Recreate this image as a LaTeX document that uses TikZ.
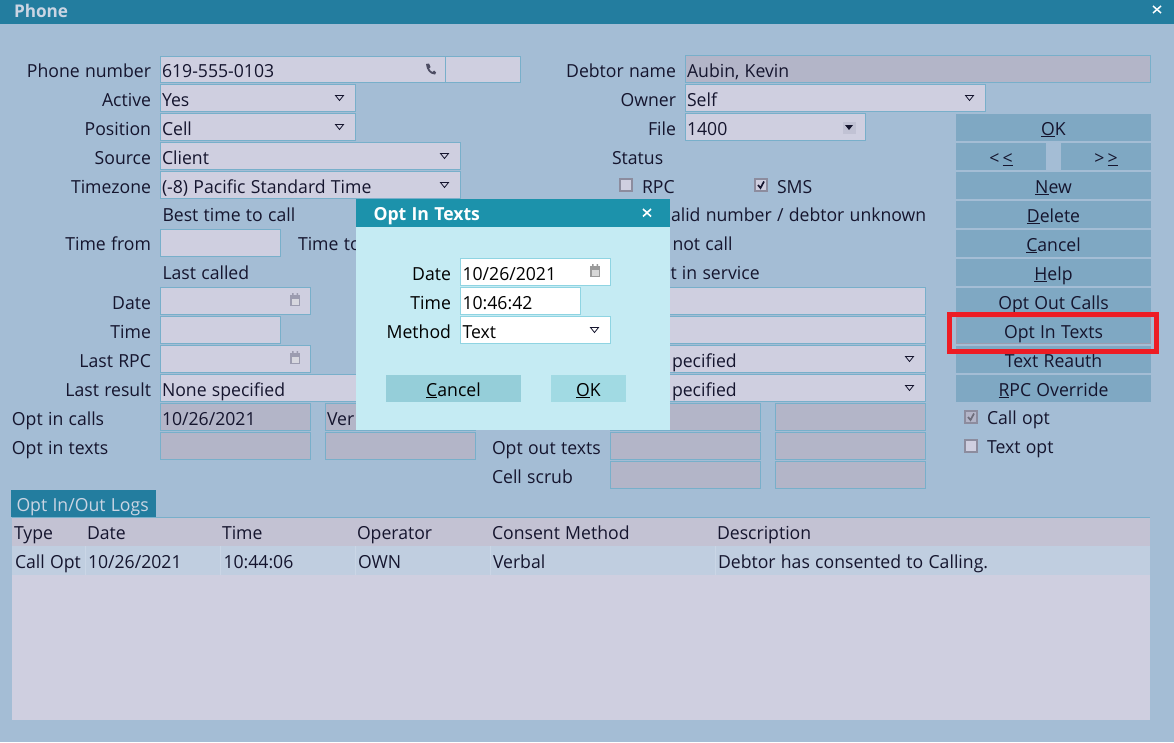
\documentclass[tikz,border=0pt]{standalone}
\usepackage{fontspec}
\setmainfont{Open Sans}[FakeStretch=0.98,WordSpace=1.15]
\definecolor{bgc}{HTML}{A4BDD5}
\definecolor{barc}{HTML}{237D9F}
\definecolor{fieldc}{HTML}{CFCFE0}
\definecolor{offc}{HTML}{B3B5C8}
\definecolor{edgec}{HTML}{78AFCA}
\definecolor{btnc}{HTML}{7FA8C3}
\definecolor{inkc}{HTML}{15152E}
\definecolor{dlgbar}{HTML}{1C92AB}
\definecolor{dlgbody}{HTML}{C5EBF3}
\definecolor{dlgedge}{HTML}{8FD4E2}
\definecolor{dlgcancel}{HTML}{95CED9}
\definecolor{dlgok}{HTML}{A1DAE3}
\definecolor{redc}{HTML}{ED1C24}
\definecolor{headc}{HTML}{C3C2D3}
\definecolor{rowc}{HTML}{C0CEE0}
\definecolor{titletxt}{HTML}{CBD5E3}
\definecolor{sepc}{HTML}{CAD6E6}
\definecolor{iconc}{HTML}{9C9CB0}
\definecolor{tickedge}{HTML}{8C8C9E}
\definecolor{dlgicon}{HTML}{9A9A9A}
\newcounter{tc}
\tikzset{
  txtbase/.style={inner sep=0pt,outer sep=0pt,text=inkc,font=\fontsize{18}{20}\selectfont},
  fieldbox/.style={draw=edgec,fill=fieldc,line width=1pt},
  offbox/.style={draw=edgec,fill=offc,line width=1pt},
  dlgbox/.style={draw=dlgedge,fill=white,line width=1pt},
  btnbox/.style={fill=btnc,draw=none},
  tickbox/.style={draw=tickedge,fill=fieldc,line width=1.2pt},
}
\newcommand\txtL[4][]{\stepcounter{tc}\node[txtbase,anchor=base west,#1] (t\arabic{tc}) at ({#2},{#3}) {#4};}
\newcommand\txtR[4][]{\stepcounter{tc}\node[txtbase,anchor=base east,#1] (t\arabic{tc}) at ({#2},{#3}) {#4};}
\newcommand\txtC[4][]{\stepcounter{tc}\node[txtbase,anchor=base,#1] (t\arabic{tc}) at ({#2},{#3}) {#4};}
\newcommand\fld[4]{\draw[fieldbox] (#1,#2) rectangle (#3,#4);}
\newcommand\off[4]{\draw[offbox] (#1,#2) rectangle (#3,#4);}
\newcommand\drop[3][fieldc]{\draw[draw=inkc,line width=0.8pt,fill=#1] (#2-4,#3-2.5) -- (#2+4,#3-2.5) -- (#2,#3+2.5) -- cycle;}
\newcommand\btn[4]{\fill[btnbox] (#1,#2) rectangle (#3,#2+27);\txtC{(#1+#3)/2}{#2+21}{#4}}
\newcommand\calicon[3]{\fill[#3] (#1-5,#2-5) rectangle (#1+5,#2+6);\fill[#3!40!white] (#1-3.5,#2-1.5) rectangle (#1+3.5,#2+4.5);\fill[#3] (#1-3,#2-7) rectangle (#1-1.5,#2-4) (#1+1.5,#2-7) rectangle (#1+3,#2-4);}
\newcommand\tick[2]{\draw[tickbox] (#1,#2) rectangle (#1+12,#2+12);}
\begin{document}
\begin{tikzpicture}[x=1pt,y=-1pt]
\useasboundingbox (0,0) rectangle (1174,742);
\fill[bgc] (0,0) rectangle (1174,742);
% title bar
\fill[barc] (0,0) rectangle (1174,24);
\txtL[text=titletxt,font=\fontsize{17.5}{20}\selectfont\bfseries]{14}{17.5}{Phone}
\draw[white,line width=1.5pt] (1153,6) -- (1161,13) (1161,6) -- (1153,13);
% left fields
\fld{160.5}{56}{445.5}{82.5}\fld{445.5}{56}{520.5}{82.5}
\fld{160.5}{84.5}{355.5}{111.5}\fld{160.5}{113.5}{355.5}{140.5}
\fld{160.5}{142.5}{460.5}{169.5}\fld{160.5}{171.5}{460.5}{198.5}
\fld{160.5}{229.5}{280.5}{256.5}
\fld{160.5}{287.5}{310.5}{314.5}\fld{160.5}{316.5}{280.5}{343.5}
\fld{160.5}{345.5}{310.5}{372.5}\fld{160.5}{374.5}{400.5}{401.5}
\off{160.5}{403.5}{310.5}{430.5}\off{325.5}{403.5}{475.5}{430.5}
\off{160.5}{432.5}{310.5}{459.5}\off{325.5}{432.5}{475.5}{459.5}
% phone glyph
\fill[inkc!70!fieldc] (426,64) -- (429,63.5) -- (430.5,67) -- (429,68.5) .. controls (430,70.5) and (431,71.5) .. (432.5,72) -- (434,70.5) -- (436,72.5) -- (435,74.5) .. controls (430,74.5) and (426.5,70) .. (426,64) -- cycle;
\drop{339.5}{98}\drop{339.5}{127}\drop{444.5}{156}\drop{444.5}{185}
\calicon{295}{300}{iconc}\calicon{295}{358}{iconc}
\txtR{151}{77}{Phone number}\txtL{162}{77}{619-555-0103}
\txtR{151}{106}{Active}\txtL{162}{106}{Yes}
\txtR{151}{135}{Position}\txtL{162}{135}{Cell}
\txtR{151}{164}{Source}\txtL{162}{164}{Client}
\txtR{151}{193}{Timezone}\txtL{162}{193}{(-8) Pacific Standard Time}
\txtL{162.5}{221.7}{Best time to call}
\txtR{151}{250.7}{Time from}\txtL{298}{250.7}{Time to}
\txtL{162.5}{279.3}{Last called}
\txtR{151}{309}{Date}\txtR{151}{338}{Time}\txtR{151}{367}{Last RPC}
\txtR{151}{396}{Last result}\txtL{162}{396}{None specified}
\txtL{12}{425}{Opt in calls}\txtL{162}{425}{10/26/2021}\txtL{327}{425}{Ver}
\txtL{12}{454}{Opt in texts}
% middle and right fields
\off{685.5}{55.5}{1150.5}{82.5}
\fld{685.5}{84.5}{985.5}{111.5}\fld{685.5}{113.5}{865.5}{140.5}
\fld{640}{287.5}{925.5}{314.5}\fld{640}{316.5}{925.5}{343.5}
\fld{640}{345.5}{925.5}{372.5}\fld{640}{374.5}{925.5}{401.5}
\off{610.5}{403.5}{760.5}{430.5}\off{775.5}{403.5}{925.5}{430.5}
\off{610.5}{432.5}{760.5}{459.5}\off{775.5}{432.5}{925.5}{459.5}
\off{610.5}{461.5}{760.5}{488.5}\off{775.5}{461.5}{925.5}{488.5}
\drop{969.5}{98}\drop{909.5}{359}\drop{909.5}{388}
\fill[offc!50!fieldc] (843,122) rectangle (856,134);
\fill[inkc] (845,125) -- (853,125) -- (849,130) -- cycle;
\txtR{676}{77}{Debtor name}\txtL{687}{77}{Aubin, Kevin}
\txtR{676}{106}{Owner}\txtL{687}{106}{Self}
\txtR{676}{135}{File}\txtL{687}{135}{1400}
\txtL{612}{164}{Status}
\tick{620}{179}\txtL{642}{193}{RPC}
\tick{755}{179}\txtL{777}{193}{SMS}
\draw[inkc,line width=1.7pt] (758,185) -- (760.5,188) -- (764,181.5);
\txtL{671}{221.7}{alid number / debtor unknown}
\txtL{672.5}{250}{not call}
\txtL{670.5}{279}{t in service}
\txtL{672}{367}{pecified}\txtL{672}{396}{pecified}
\txtL{492}{454}{Opt out texts}\txtL{492}{483}{Cell scrub}
% buttons
\btn{956}{114}{1151}{\underline{O}K}
\btn{956}{143}{1046}{<\,\underline{<}}
\btn{1061}{143}{1151}{>\,\underline{>}}
\btn{956}{172}{1151}{\underline{N}ew}
\btn{956}{201}{1151}{\underline{D}elete}
\btn{956}{230}{1151}{\underline{C}ancel}
\btn{956}{259}{1151}{\underline{H}elp}
\btn{956}{288}{1151}{Opt Out Calls}
\btn{956}{317}{1151}{Opt In Texts}
\btn{956}{346}{1151}{Text Reauth}
\btn{956}{375}{1151}{\underline{R}PC Override}
\draw[iconc,line width=1pt] (956.5,317.5) rectangle (1150.5,343.5);
\draw[redc,line width=4.6pt] (949.5,314.5) rectangle (1156.5,351.5);
\draw[tickbox,fill=offc] (965,411) rectangle (977,423);
\draw[iconc!70!black,line width=1.7pt] (968,417) -- (970.5,420) -- (974,413.5);
\txtL{987}{424}{Call opt}
\tick{965}{440}\txtL{987}{453}{Text opt}
% logs
\fill[barc] (11,490) rectangle (156,517);
\txtL[text=titletxt]{16.5}{511}{Opt In/Out Logs}
\fill[fieldc] (12,517) rectangle (1150,720);
\fill[headc] (12,518) rectangle (1150,546);
\fill[rowc] (12,546) rectangle (1150,575);
\draw[edgec,line width=1pt] (12,517.5) -- (1150,517.5);
\foreach \cx in {85.5,220.5,355.5,490.5,715.5} \draw[sepc,line width=0.5pt] (\cx,546) -- (\cx,575);
\txtL{14}{539}{Type}\txtL{87}{539}{Date}\txtL{222}{539}{Time}\txtL{357}{539}{Operator}
\txtL{492}{539}{Consent Method}\txtL{717}{539}{Description}
\txtL{15}{568}{Call Opt}\txtL{88}{568}{10/26/2021}\txtL{223.5}{568}{10:44:06}\txtL{358}{568}{OWN}
\txtL{493}{568}{Verbal}\txtL{718}{568}{Debtor has consented to Calling.}
% dialog
\fill[dlgbody] (356,199) rectangle (670,430);
\fill[dlgbar] (356,199) rectangle (670,227);
\txtL[text=white,font=\fontsize{18}{20}\selectfont\bfseries]{373.5}{220.5}{Opt In Texts}
\draw[white,line width=1.6pt] (643,209) -- (651,216.5) (651,209) -- (643,216.5);
\draw[dlgbox] (460.5,258.5) rectangle (610.5,285.5);
\draw[dlgbox] (460.5,287.5) rectangle (580.5,314.5);
\draw[dlgbox] (460.5,316.5) rectangle (610.5,343.5);
\calicon{595}{271}{dlgicon}
\drop[white]{594.5}{330}
\txtR[text=black]{451}{280}{Date}\txtL[text=black]{462.5}{280}{10/26/2021}
\txtR[text=black]{451}{309}{Time}\txtL[text=black]{462.5}{309}{10:46:42}
\txtR[text=black]{451}{338}{Method}\txtL[text=black]{462.5}{338}{Text}
\fill[dlgcancel] (386,375) rectangle (521,402);
\fill[dlgok] (551,375) rectangle (626,402);
\txtC[text=black]{453.5}{396}{\underline{C}ancel}
\txtC[text=black]{588.5}{396}{\underline{O}K}
\end{tikzpicture}
\end{document}
